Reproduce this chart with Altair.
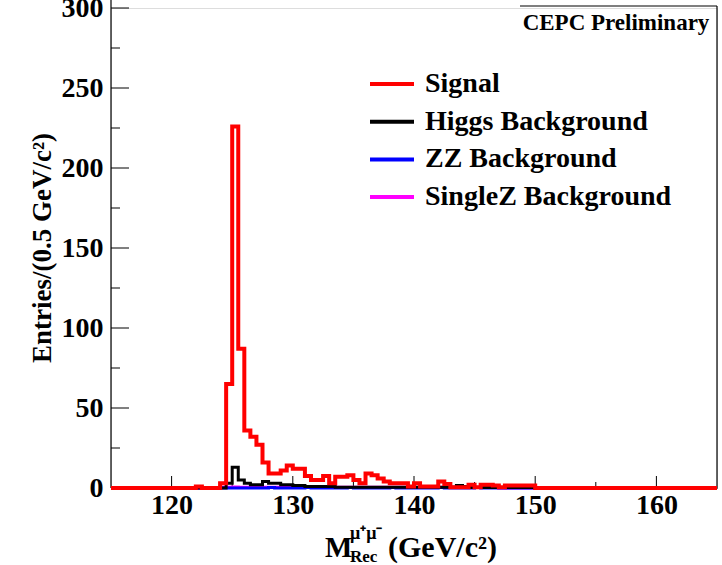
import altair as alt
import pandas as pd

# ---------------- data ----------------
bin_lo = [115 + 0.5 * i for i in range(100)]  # 0.5 GeV bins, 115..165
x_max = 165.0

signal = [
    0, 0, 0, 0, 0, 0, 0, 0, 0, 0, 0, 0, 0, 0,           # 115.0 - 121.5
    1, 0, 0, 0, 3, 65, 226, 87, 36, 32,                 # 122.0 - 126.5
    27, 16, 9, 9, 11, 14, 12, 12, 7.5, 5,               # 127.0 - 131.5
    5, 7.5, 3, 7, 7, 8, 5, 3, 9, 8,                     # 132.0 - 136.5
    6, 4, 3, 3, 3, 1, 3, 1, 1, 1,                       # 137.0 - 141.5
    4, 2.5, 0.5, 0.5, 0.5, 2, 0.5, 2, 2, 1.5,           # 142.0 - 146.5
    0.5, 1.5, 1.5, 1.5, 1.5, 1.5,                       # 147.0 - 149.5
    0, 0, 0, 0, 0, 0, 0, 0, 0, 0,                       # 150.0 - 154.5
    0, 0, 0, 0, 0, 0, 0, 0, 0, 0,                       # 155.0 - 159.5
    0, 0, 0, 0, 0, 0, 0, 0, 0, 0,                       # 160.0 - 164.5
]
higgs = [
    0, 0, 0, 0, 0, 0, 0, 0, 0, 0, 0, 0, 0, 0,           # 115.0 - 121.5
    0, 0, 0, 0, 0, 3, 13, 5, 3, 2,                      # 122.0 - 126.5
    2, 4, 3, 3, 2, 2, 1.5, 1.5, 1, 1,                   # 127.0 - 131.5
    1, 1, 1, 0.5, 0.5, 0.5, 0.5, 0.5, 0.5, 0.5,         # 132.0 - 136.5
    0.5, 0.5, 0.5, 0.5, 0.5, 0.5, 0.5, 0.5, 0.5, 0.5,   # 137.0 - 141.5
    0.5, 0.5, 0.5, 1.5, 1, 0.3, 0.3, 0.3, 0.3, 0.3,     # 142.0 - 146.5
    0.3, 0.3, 0.3, 0.3, 0.3, 0.3,                       # 147.0 - 149.5
    0, 0, 0, 0, 0, 0, 0, 0, 0, 0,
    0, 0, 0, 0, 0, 0, 0, 0, 0, 0,
    0, 0, 0, 0, 0, 0, 0, 0, 0, 0,
]
zz = [
    0, 0, 0, 0, 0, 0, 0, 0, 0, 0, 0, 0, 0, 0,
    0, 0, 0, 0, 0, 0, 0, 0, 0, 0,
    0, 0, 0.3, 0, 0, 0, 0, 0, 0.3, 0,
    0, 0, 0, 0, 0, 0.3, 0, 0, 0, 0,
    0, 0, 0.3, 0, 0, 0, 0, 0, 0, 0,
    0.3, 0, 0, 0, 0, 0, 0.3, 0, 0, 0,
    0, 0, 0, 0, 0, 0,
    0, 0, 0, 0, 0, 0, 0, 0, 0, 0,
    0, 0, 0, 0, 0, 0, 0, 0, 0, 0,
    0, 0, 0, 0, 0, 0, 0, 0, 0, 0,
]
singlez = [
    0, 0, 0, 0, 0, 0, 0, 0, 0, 0, 0, 0, 0, 0,
    0, 0, 0, 0, 0.4, 0.5, 0.6, 0.5, 0.4, 0.5,
    0.4, 0.5, 0.4, 0.4, 0.5, 0.4, 0.4, 0.5, 0.4, 0.4,
    0.4, 0.5, 0.4, 0.4, 0.4, 0.4, 0.5, 0.4, 0.4, 0.4,
    0.4, 0.4, 0.4, 0.4, 0.5, 0.4, 0.4, 0.4, 0.4, 0.4,
    0.4, 0.4, 0.4, 0.4, 0.4, 0.4, 0.4, 0.4, 0.4, 0.4,
    0, 0, 0, 0, 0, 0,
    0, 0, 0, 0, 0, 0, 0, 0, 0, 0,
    0, 0, 0, 0, 0, 0, 0, 0, 0, 0,
    0, 0, 0, 0, 0, 0, 0, 0, 0, 0,
]
for s in (signal, higgs, zz, singlez):
    assert len(s) == 100

series_names = ["Signal", "Higgs Background", "ZZ Background", "SingleZ Background"]
series_values = [signal, higgs, zz, singlez]
series_colors = ["#ff0000", "#000000", "#0000ff", "#ff00ff"]
series_widths = [4, 3, 3, 3]

x_major = [120, 130, 140, 150, 160]
x_minor = [125, 135, 145, 155]
y_major = [0, 50, 100, 150, 200, 250, 300]
y_minor = [25, 75, 125, 175, 225, 275]

FONT = "Liberation Serif"
W, H = 606, 480

xscale = alt.Scale(domain=[115, 165], nice=False, zero=False)
yscale = alt.Scale(domain=[0, 300], nice=False)


def step_df(vals):
    return pd.DataFrame({"m": bin_lo + [x_max], "n": list(vals) + [vals[-1]]})


layers = []

# axes (labels only, ROOT-like)
base = alt.Chart(pd.DataFrame({"m": [115], "n": [0]})).mark_point(opacity=0).encode(
    x=alt.X("m:Q", scale=xscale,
            axis=alt.Axis(values=x_major, title=None, ticks=False, grid=False,
                          labelFont=FONT, labelFontSize=28, labelFontWeight="bold",
                          labelColor="black", labelPadding=3, domain=True,
                          domainColor="black", labelFlush=False)),
    y=alt.Y("n:Q", scale=yscale,
            axis=alt.Axis(values=y_major, title=None, ticks=False, grid=False,
                          labelFont=FONT, labelFontSize=28, labelFontWeight="bold",
                          labelColor="black", labelPadding=8, domain=False,
                          labelFlush=False, labelOverlap=False)),
)
layers.append(base)

# frame lines
layers.append(alt.Chart(pd.DataFrame({"a": [0]})).mark_rule(color="black", strokeWidth=1.2).encode(
    x=alt.value(0), y=alt.value(-8), y2=alt.value(H)))
layers.append(alt.Chart(pd.DataFrame({"a": [0]})).mark_rule(color="black", strokeWidth=1.2).encode(
    x=alt.value(W), y=alt.value(-2), y2=alt.value(H)))
layers.append(alt.Chart(pd.DataFrame({"a": [0]})).mark_rule(color="black", strokeWidth=1.2).encode(
    x=alt.value(409), x2=alt.value(W), y=alt.value(-2)))

# inward ticks
layers.append(alt.Chart(pd.DataFrame({"t": x_major})).mark_rule(color="black", strokeWidth=1).encode(
    x=alt.X("t:Q", scale=xscale), y=alt.value(H - 12), y2=alt.value(H)))
layers.append(alt.Chart(pd.DataFrame({"t": x_minor})).mark_rule(color="black", strokeWidth=1).encode(
    x=alt.X("t:Q", scale=xscale), y=alt.value(H - 6), y2=alt.value(H)))
layers.append(alt.Chart(pd.DataFrame({"t": y_major})).mark_rule(color="black", strokeWidth=1).encode(
    y=alt.Y("t:Q", scale=yscale), x=alt.value(0), x2=alt.value(18)))
layers.append(alt.Chart(pd.DataFrame({"t": y_minor})).mark_rule(color="black", strokeWidth=1).encode(
    y=alt.Y("t:Q", scale=yscale), x=alt.value(0), x2=alt.value(9)))

# histograms (drawn background first, signal on top)
for name, vals, col, sw in reversed(list(zip(series_names, series_values, series_colors, series_widths))):
    layers.append(
        alt.Chart(step_df(vals)).mark_line(interpolate="step-after", color=col, strokeWidth=sw,
                                           strokeJoin="miter", strokeCap="butt").encode(
            x=alt.X("m:Q", scale=xscale), y=alt.Y("n:Q", scale=yscale))
    )

# legend
for i, (name, col) in enumerate(zip(series_names, series_colors)):
    yy = 76 + i * 37.7
    layers.append(alt.Chart(pd.DataFrame({"a": [0]})).mark_rule(color=col, strokeWidth=4).encode(
        x=alt.value(259), x2=alt.value(303), y=alt.value(yy)))
    layers.append(alt.Chart(pd.DataFrame({"t": [name]})).mark_text(
        font=FONT, fontSize=28, fontWeight="bold", align="left", baseline="middle", color="black").encode(
        text="t:N", x=alt.value(314), y=alt.value(yy)))

# CEPC Preliminary label
layers.append(alt.Chart(pd.DataFrame({"t": ["CEPC Preliminary"]})).mark_text(
    font=FONT, fontSize=23, fontWeight="bold", align="center", baseline="alphabetic", color="black").encode(
    text="t:N", x=alt.value(505), y=alt.value(22)))

# y title
layers.append(alt.Chart(pd.DataFrame({"t": ["Entries/(0.5 GeV/c²)"]})).mark_text(
    font=FONT, fontSize=27, fontWeight="bold", align="center", baseline="middle", angle=270, color="black").encode(
    text="t:N", x=alt.value(-68), y=alt.value(240)))

# x title: M^{mu+mu-}_{Rec} (GeV/c^2)
def txt(t, x, y, size):
    return alt.Chart(pd.DataFrame({"t": [t]})).mark_text(
        font=FONT, fontSize=size, fontWeight="bold", align="left", baseline="alphabetic", color="black").encode(
        text="t:N", x=alt.value(x), y=alt.value(y))

layers.append(txt("M", 214, 549, 29))
layers.append(txt("μ⁺μ⁻", 239, 531, 18))
layers.append(txt("Rec", 239, 554, 17))
layers.append(txt("(GeV/c²)", 277, 549, 30))

chart = alt.layer(*layers).properties(
    width=W, height=H,
    padding={"left": 111, "top": 8, "right": 5, "bottom": 77},
    autosize=alt.AutoSizeParams(type="none"),
).configure_view(stroke=None).configure(background="white")

chart.save("out.html", embed_options={"renderer": "svg", "actions": False})
